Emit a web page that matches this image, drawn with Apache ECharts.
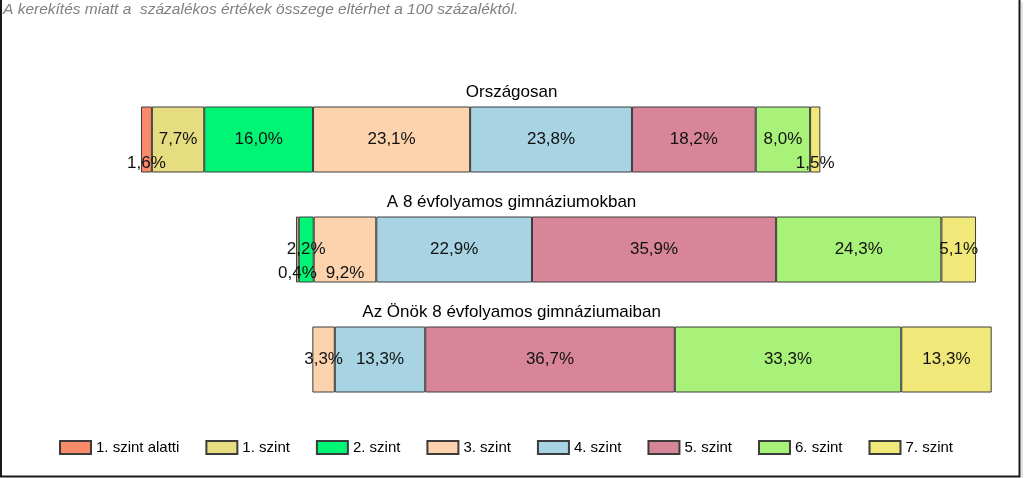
<!DOCTYPE html>
<html>
<head>
<meta charset="utf-8">
<script src="https://cdn.jsdelivr.net/npm/echarts@6/dist/echarts.min.js"></script>
<style>
html,body{margin:0;padding:0;background:#fff;}
#c{width:1024px;height:478px;}
</style>
</head>
<body>
<div id="c"></div>
<script>
// ---- data ----
const note = 'A kerekítés miatt a  százalékos értékek összege eltérhet a 100 százaléktól.';
const categories = ['Országosan', 'A 8 évfolyamos gimnáziumokban', 'Az Önök 8 évfolyamos gimnáziumaiban'];
const levels = ['1. szint alatti', '1. szint', '2. szint', '3. szint', '4. szint', '5. szint', '6. szint', '7. szint'];
// values per level, one per category (0 = no segment)
const lvl0 = [1.6, 0, 0];
const lvl1 = [7.7, 0.4, 0];
const lvl2 = [16.0, 2.2, 0];
const lvl3 = [23.1, 9.2, 3.3];
const lvl4 = [23.8, 22.9, 13.3];
const lvl5 = [18.2, 35.9, 36.7];
const lvl6 = [8.0, 24.3, 33.3];
const lvl7 = [1.5, 5.1, 13.3];
// invisible leading offset of each bar (percentage units)
const offsets = [20.0, 42.8, 45.2];
const axisMax = 149;

// ---- styles ----
const colors = ['#F98B6B', '#E6DC80', '#00F575', '#FCD3AD', '#A7D3E3', '#D88599', '#A9F27A', '#F0E878'];
// label nudges for crowded small segments: key "category,level" -> [dx, dy]
const labelShift = { '0,0': [0, 23.5], '0,7': [0, 23.5], '1,1': [0, 23.5], '1,3': [0, 23.5] };

const FONT = 'Arial, "Liberation Sans", sans-serif';
const allLevels = [lvl0, lvl1, lvl2, lvl3, lvl4, lvl5, lvl6, lvl7];
const fmt = v => v.toFixed(1).replace('.', ',') + '%';

const series = [{
  name: '_offset', type: 'bar', stack: 'total', barWidth: 66, barGap: '-100%',
  silent: true, itemStyle: { color: 'transparent' }, data: offsets, z: 1
}];
allLevels.forEach((arr, li) => {
  series.push({
    name: levels[li], type: 'bar', stack: 'total', barWidth: 66, barGap: '-100%',
    itemStyle: { color: colors[li], borderColor: '#3c3c3c', borderWidth: 1 },
    label: { show: true, position: 'inside', color: '#111', fontSize: 17, fontFamily: FONT,
      formatter: p => fmt(p.value) },
    data: arr.map((v, ci) => {
      if (!v) return '-';
      const sh = labelShift[ci + ',' + li];
      return sh ? { value: v, label: { offset: sh } } : v;
    }),
    z: 2
  });
});
// category titles above each bar
series.push({
  name: '_title', type: 'bar', barWidth: 66, barGap: '-100%', silent: true,
  itemStyle: { color: 'transparent' },
  label: { show: true, position: 'top', distance: 6, color: '#000', fontSize: 17, fontFamily: FONT,
    formatter: p => categories[p.dataIndex] },
  data: categories.map(() => axisMax), z: 0
});

const chart = echarts.init(document.getElementById('c'), null, { renderer: 'canvas' });
chart.setOption({
  animation: false,
  backgroundColor: '#fff',
  textStyle: { fontFamily: FONT },
  grid: { left: 5, top: 84.5, width: axisMax * 6.8, height: 330, containLabel: false },
  xAxis: { type: 'value', min: 0, max: axisMax, show: false },
  yAxis: { type: 'category', data: categories, inverse: true, show: false },
  legend: {
    data: levels, left: 59, top: 440, padding: 0, itemWidth: 31, itemHeight: 13, itemGap: 26,
    icon: 'rect', textStyle: { fontSize: 15, color: '#000', fontFamily: FONT }
  },
  graphic: [
    { type: 'text', left: 3, top: 2, style: { text: note, fontSize: 15.5, fontStyle: 'italic',
      fill: '#808080', fontFamily: FONT } },
    { type: 'polyline', shape: { points: [[1, 0], [1, 476.5], [1019.5, 476.5], [1019.5, 0]] },
      style: { stroke: '#1a1a1a', lineWidth: 2, fill: null } },
    { type: 'line', shape: { x1: 1022, y1: 2, x2: 1022, y2: 478 }, style: { stroke: '#c8c8c8', lineWidth: 1 } }
  ],
  series: series
});
</script>
</body>
</html>
